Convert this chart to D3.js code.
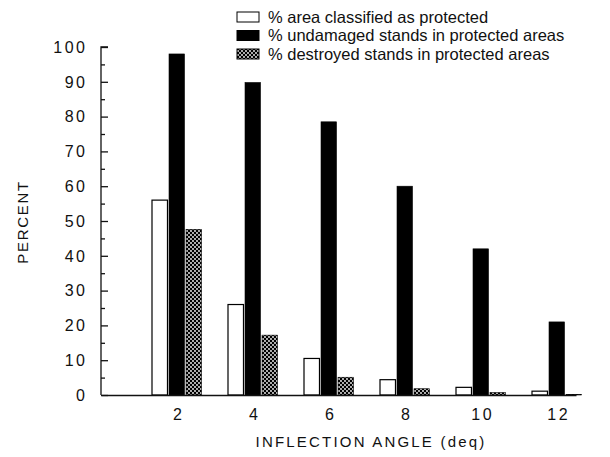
<!DOCTYPE html>
<html>
<head>
<meta charset="utf-8">
<script src="https://cdn.jsdelivr.net/npm/d3@7"></script>
<style>
  body { margin: 0; background: #fff; }
  text { font-family: "Liberation Sans", Arial, sans-serif; fill: #111; }
</style>
</head>
<body>
<div id="chart-area"></div>
<script>
// data
var angles = [2, 4, 6, 8, 10, 12];
var seriesNames = ["% area classified as protected",
                   "% undamaged stands in protected areas",
                   "% destroyed stands in protected areas"];
var areaProtected = [56, 26, 10.5, 4.4, 2.2, 1.1];
var undamaged = [98, 89.8, 78.5, 60, 42, 21];
var destroyed = [47.6, 17.2, 5.1, 1.8, 0.7, 0.2];
var yTicks = [0, 10, 20, 30, 40, 50, 60, 70, 80, 90, 100];
var yMinor = [5, 15, 25, 35, 45, 55, 65, 75, 85, 95];

var seriesValues = [areaProtected, undamaged, destroyed];
var fills = ["#fff", "#000", "url(#checks)"];

var W = 610, H = 457;
var svg = d3.select("#chart-area").append("svg")
    .attr("width", W)
    .attr("height", H);

// checkered pattern for "destroyed"
var pat = svg.append("defs").append("pattern")
    .attr("id", "checks")
    .attr("patternUnits", "userSpaceOnUse")
    .attr("width", 4)
    .attr("height", 4);
pat.append("rect").attr("width", 4).attr("height", 4).attr("fill", "#000");
pat.append("circle").attr("cx", 1).attr("cy", 1).attr("r", 0.9).attr("fill", "#fff");
pat.append("circle").attr("cx", 3).attr("cy", 3).attr("r", 0.9).attr("fill", "#fff");

var x = d3.scaleLinear().domain([0, 12.5]).range([101, 576]);
var y = d3.scaleLinear().domain([0, 100]).range([395, 47]);
var inner = d3.scaleBand()
    .domain(d3.range(seriesNames.length))
    .range([-25, 24.5])
    .paddingInner(0.09);

// y axis
var yAxis = svg.append("g")
    .attr("transform", "translate(" + x(0) + ",0)")
    .call(d3.axisRight(y).tickValues(yTicks).tickSize(7).tickFormat(""));
yAxis.select(".domain").attr("d", "M7," + y(100) + "H0V" + y(0));
svg.append("g")
    .attr("transform", "translate(" + x(0) + ",0)")
    .call(d3.axisRight(y).tickValues(yMinor).tickSize(4).tickFormat(""))
    .select(".domain").remove();
svg.selectAll(".tick line, .domain").attr("stroke", "#111").attr("stroke-width", 1.3);

svg.append("g").selectAll("text")
    .data(yTicks)
    .enter()
    .append("text")
    .attr("x", 87.5)
    .attr("y", function(d) { return y(d); })
    .attr("dy", "0.36em")
    .attr("text-anchor", "end")
    .attr("font-size", "16px")
    .style("letter-spacing", "2.5px")
    .text(function(d) { return d; });

// bars
seriesValues.forEach(function(vals, s) {
    svg.append("g").selectAll("rect")
        .data(vals)
        .enter()
        .append("rect")
        .attr("x", function(d, i) { return x(angles[i]) + inner(s); })
        .attr("y", function(d) { return y(d); })
        .attr("width", inner.bandwidth())
        .attr("height", function(d) { return y(0) - y(d); })
        .attr("fill", fills[s])
        .attr("stroke", "#000")
        .attr("stroke-width", s == 0 ? 1.2 : 0.6);
});

// x axis
var xAxis = svg.append("g")
    .attr("transform", "translate(0," + y(0) + ")")
    .call(d3.axisBottom(x).tickValues(angles).tickSize(0).tickPadding(14));
xAxis.select(".domain").attr("stroke", "#111").attr("stroke-width", 1.3);
xAxis.selectAll("text")
    .attr("font-size", "16px")
    .attr("font-family", "Liberation Sans, Arial, sans-serif")
    .attr("fill", "#111")
    .attr("dx", "1.2px")
    .style("letter-spacing", "2.5px");

// axis titles
svg.append("text")
    .attr("x", 371)
    .attr("y", 447)
    .attr("text-anchor", "middle")
    .attr("font-size", "15px")
    .style("letter-spacing", "2.2px")
    .text("INFLECTION ANGLE (deq)");

svg.append("text")
    .attr("transform", "translate(28,222) rotate(-90)")
    .attr("text-anchor", "middle")
    .attr("font-size", "15px")
    .style("letter-spacing", "1.7px")
    .text("PERCENT");

// legend
var legend = svg.append("g").selectAll("g")
    .data(seriesNames)
    .enter()
    .append("g")
    .attr("transform", function(d, i) { return "translate(237," + (17 + i * 18.5) + ")"; });
legend.append("rect")
    .attr("x", 0)
    .attr("y", -5)
    .attr("width", 22)
    .attr("height", 10)
    .attr("fill", function(d, i) { return fills[i]; })
    .attr("stroke", "#000")
    .attr("stroke-width", 1);
legend.append("text")
    .attr("x", 31)
    .attr("y", 0)
    .attr("dy", "0.36em")
    .attr("font-size", "16.5px")
    .text(function(d) { return d; });
</script>
</body>
</html>
